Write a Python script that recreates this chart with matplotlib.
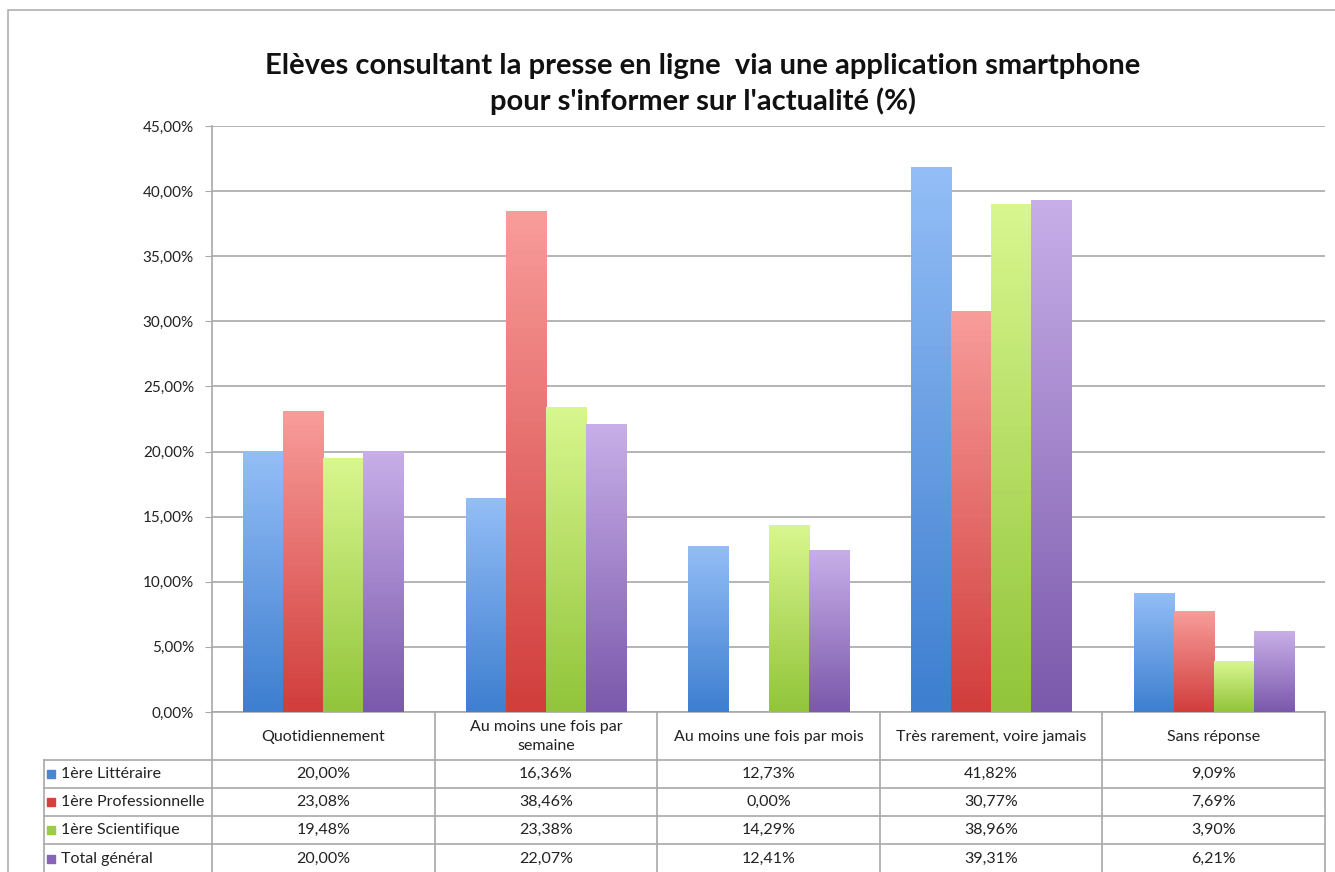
import numpy as np
import matplotlib
matplotlib.use("Agg")
import matplotlib.pyplot as plt
from matplotlib.colors import LinearSegmentedColormap
from matplotlib.patches import Rectangle
from matplotlib.lines import Line2D

plt.rcParams["font.family"] = ["Lato", "DejaVu Sans"]

categories = ["Quotidiennement", "Au moins une fois par\nsemaine",
              "Au moins une fois par mois", "Très rarement, voire jamais",
              "Sans réponse"]
series_names = ["1ère Littéraire", "1ère Professionnelle",
                "1ère Scientifique", "Total général"]
litteraire = [20.00, 16.36, 12.73, 41.82, 9.09]
professionnelle = [23.08, 38.46, 0.00, 30.77, 7.69]
scientifique = [19.48, 23.38, 14.29, 38.96, 3.90]
total = [20.00, 22.07, 12.41, 39.31, 6.21]
series_values = [litteraire, professionnelle, scientifique, total]

# (top colour, bottom colour) of each gradient
gradients = [("#93BDF6", "#3E7FD0"), ("#F89C9A", "#D13E3C"),
             ("#D8F68E", "#92C53B"), ("#C7AEE8", "#7B59AC")]
swatch = ["#4A86D4", "#D6403D", "#9ACC45", "#8764B8"]

W, H = 1335, 872
fig = plt.figure(figsize=(W / 100, H / 100), dpi=100)


def fx(px):
    return px / W


def fy(py):
    return 1 - py / H


# outer frame
fig.add_artist(Rectangle((fx(8), fy(1000)), 2, fy(10) - fy(1000),
                         transform=fig.transFigure, fill=False,
                         edgecolor="#B0B0B0", linewidth=1.2))

left, right, top, bottom = 212, 1325, 126, 712
ax = fig.add_axes([fx(left), fy(bottom), fx(right - left), fy(top) - fy(bottom)])

n_cat = len(categories)
n_ser = len(series_values)
group = 0.72
bw = group / n_ser
x = np.arange(n_cat)

for i, vals in enumerate(series_values):
    offs = (i - (n_ser - 1) / 2) * bw
    bars = ax.bar(x + offs, vals, bw, color="none", edgecolor="none", zorder=3)
    cmap = LinearSegmentedColormap.from_list("g%d" % i, [gradients[i][1], gradients[i][0]])
    grad = np.linspace(0, 1, 64).reshape(-1, 1)
    for b in bars:
        h = b.get_height()
        if h <= 0:
            continue
        ax.imshow(grad, extent=(b.get_x(), b.get_x() + b.get_width(), 0, h),
                  origin="lower", aspect="auto", cmap=cmap, zorder=3)

ax.set_xlim(-0.5, n_cat - 0.5)
ax.set_ylim(0, 45)
ax.set_yticks(np.arange(0, 46, 5))
ax.set_yticklabels([f"{v:.2f}".replace(".", ",") + "%" for v in np.arange(0, 46, 5)],
                   fontsize=11, color="#222222")
ax.set_xticks([])
ax.yaxis.grid(True, color="#A8A8A8", linewidth=1.2, zorder=0)
ax.set_axisbelow(True)
for s in ["top", "right"]:
    ax.spines[s].set_visible(False)
for s in ["left", "bottom"]:
    ax.spines[s].set_color("#A8A8A8")
    ax.spines[s].set_linewidth(1.2)
ax.tick_params(axis="y", length=5, color="#A8A8A8", pad=8)

fig.text(fx(703), fy(66), "Elèves consultant la presse en ligne  via une application smartphone",
         ha="center", va="center", fontsize=21, fontweight="bold", color="#111111")
fig.text(fx(703), fy(101), "pour s'informer sur l'actualité (%)",
         ha="center", va="center", fontsize=21, fontweight="bold", color="#111111")

# data table under the plot
line_kw = dict(color="#A8A8A8", linewidth=1.2, transform=fig.transFigure)
tab_left = 44
header_bottom = 759.5
row_h = 28.3
rows_y = [header_bottom + k * row_h for k in range(n_ser + 1)]
col_w = (right - left) / n_cat
cols_x = [left + k * col_w for k in range(n_cat + 1)]

for cx in cols_x:
    fig.add_artist(Line2D([fx(cx)] * 2, [fy(bottom), fy(rows_y[-1])], **line_kw))
fig.add_artist(Line2D([fx(tab_left)] * 2, [fy(header_bottom), fy(rows_y[-1])], **line_kw))
for ry in rows_y:
    fig.add_artist(Line2D([fx(tab_left), fx(right)], [fy(ry)] * 2, **line_kw))

for j, cat in enumerate(categories):
    fig.text(fx(left + (j + 0.5) * col_w), fy((bottom + header_bottom) / 2 + 1), cat,
             ha="center", va="center", fontsize=11.5, color="#222222", linespacing=1.5)

for i, name in enumerate(series_names):
    cy = rows_y[i] + row_h / 2
    fig.add_artist(Rectangle((fx(47), fy(cy + 4)), fx(8), fy(cy - 4) - fy(cy + 4),
                             transform=fig.transFigure, color=swatch[i]))
    fig.text(fx(61), fy(cy), name, ha="left", va="center", fontsize=11.5, color="#222222")
    for j, v in enumerate(series_values[i]):
        fig.text(fx(left + (j + 0.5) * col_w), fy(cy), f"{v:.2f}".replace(".", ",") + "%",
                 ha="center", va="center", fontsize=11.5, color="#222222")

fig.savefig("out.png", dpi=100, facecolor="white")
